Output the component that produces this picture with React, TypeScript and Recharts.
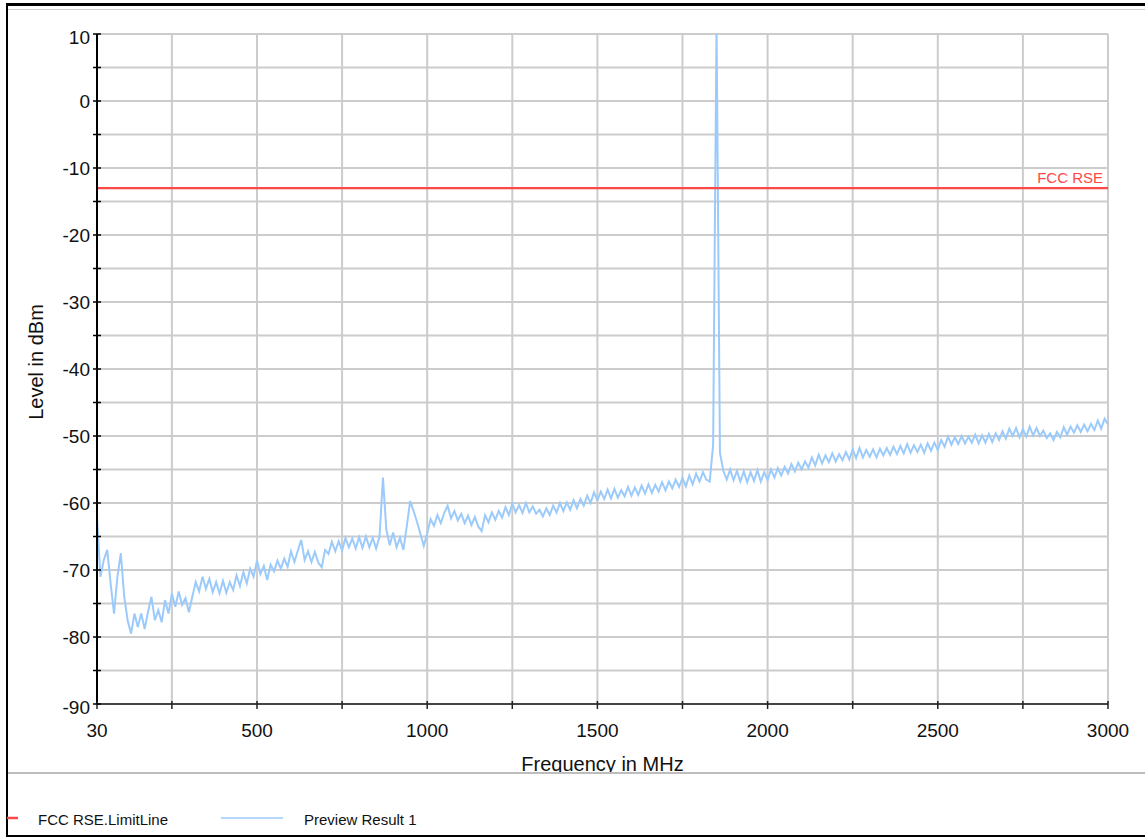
import React from 'react';
import { LineChart, Line, XAxis, YAxis, CartesianGrid } from 'recharts';

// sweep of the preview scan: 30 MHz to 3000 MHz, one point every 10 MHz
const sweepStartMHz = 30;
const sweepStepMHz = 10;
const previewLevels = [
  -62, -71, -68.5, -67, -72, -76.5, -71, -67.5, -74, -77.5,
  -79.5, -76.5, -78.5, -76.5, -78.8, -76.2, -74, -77.5, -76, -77.8,
  -74.5, -76.5, -73.5, -75.5, -73.2, -75.2, -74.2, -76.3, -74, -71.8,
  -73.2, -71, -72.8, -71.3, -73.3, -71.8, -73.5, -71.6, -73.4, -71.8,
  -73, -70.8, -72.4, -70.3, -72, -69.8, -71, -68.6, -70.6, -69.4,
  -71.5, -69.2, -70.2, -68.6, -69.8, -68.3, -69.5, -67.2, -68.8, -67.1,
  -65.5, -68.5, -67.2, -68.8, -67.3, -68.9, -69.6, -67, -67.6, -65.8,
  -67.2, -65.7, -67.1, -65.2, -66.6, -65.3, -66.8, -65.1, -66.7, -65,
  -66.6, -65.2, -66.8, -65, -56.2, -64, -66.3, -64.4, -66.6, -65.2,
  -67, -63.5, -59.7, -61.2, -62.8, -64.6, -66.4, -64.5, -62.4, -63.4,
  -61.8, -63, -61.5, -60.4, -62.3, -61.2, -62.6, -61.6, -63, -61.9,
  -63.3, -62.1, -63.5, -64.2, -61.8, -62.9, -61.4, -62.5, -61.2, -62.2,
  -60.6, -61.8, -60.1, -61.4, -60.3, -61.5, -60, -61.4, -60.5, -61.6,
  -61, -62, -60.8, -61.8, -60.4, -61.4, -60, -61.2, -59.9, -61,
  -59.6, -60.8, -59.4, -60.4, -58.9, -60, -58.4, -59.6, -58.3, -59.4,
  -58, -59.3, -57.9, -59.2, -58.1, -59, -57.6, -58.9, -57.7, -58.8,
  -57.4, -58.6, -57.2, -58.5, -57.3, -58.3, -56.9, -58.1, -56.8, -57.8,
  -56.5, -57.6, -56.3, -57.5, -55.9, -57.2, -55.6, -56.8, -55.4, -56.5,
  -56.8, -51.3, 12, -52.5, -55.2, -56.5, -55, -56.6, -55.2, -56.8,
  -55.3, -56.9, -55.4, -56.7, -55.1, -56.8, -55.4, -56.6, -55, -56.2,
  -54.8, -55.9, -54.6, -55.6, -54.2, -55.3, -54, -55, -53.8, -54.7,
  -53.2, -54.4, -52.8, -54.1, -52.9, -53.9, -52.6, -53.8, -52.7, -53.6,
  -52.4, -53.5, -52, -53.3, -51.8, -53.2, -52.1, -53.1, -52, -53.2,
  -51.9, -52.9, -51.8, -52.8, -51.6, -52.7, -51.5, -52.6, -51.2, -52.5,
  -51.4, -52.4, -51.3, -52.5, -51.1, -52.2, -51, -52.1, -50.6, -51.6,
  -50.1, -51.3, -50.2, -51.2, -50, -51.1, -50.1, -51, -49.8, -51.1,
  -49.9, -51, -49.7, -50.9, -49.6, -50.6, -49.3, -50.4, -48.9, -50,
  -48.8, -50.2, -49, -50.1, -48.6, -49.9, -48.8, -50, -49.2, -50.3,
  -49.6, -50.6, -49.4, -50.2, -48.7, -49.8, -48.6, -49.5, -48.4, -49.4,
  -48.3, -49.3, -48.2, -49.1, -47.7, -48.9, -47.4, -48.3,
];

const limitFreqs = [30, 3000];
const limitLevels = [-13, -13];
const limitName = 'FCC RSE';

const xTicks = [30, 250, 500, 750, 1000, 1250, 1500, 1750, 2000, 2250, 2500, 2750, 3000];
const xTickLabels = [30, 500, 1000, 1500, 2000, 2500, 3000];
const yTicks = [-90, -85, -80, -75, -70, -65, -60, -55, -50, -45, -40, -35, -30, -25, -20, -15, -10, -5, 0, 5, 10];
const yTickLabels = [-90, -80, -70, -60, -50, -40, -30, -20, -10, 0, 10];

const LIMIT_COLOR = '#ff4848';
const TRACE_COLOR = '#9ccbfb';
const FONT = '"Liberation Sans", Arial, sans-serif';

const legendItems = [
  { name: 'FCC RSE.LimitLine', color: LIMIT_COLOR, x1: 7, x2: 18, width: 2.5, textX: 38 },
  { name: 'Preview Result 1', color: TRACE_COLOR, x1: 221, x2: 283, width: 1.5, textX: 304 },
];

const previewData = previewLevels.map((level, i) => ({ freq: sweepStartMHz + i * sweepStepMHz, level }));
const limitData = limitFreqs.map((freq, i) => ({ freq, limit: limitLevels[i] }));

function YTick(props: any) {
  const { x, y, payload } = props;
  const v = payload.value;
  const dy = v === 10 || v === -90 ? 10 : 7;
  return (
    <g>
      <line x1={x - 4} x2={x + 4} y1={y} y2={y} stroke="#000" strokeWidth={1.5} />
      {yTickLabels.includes(v) && (
        <text x={x - 7} y={y + dy} textAnchor="end" fontSize={19} fontFamily={FONT} fill="#111">
          {v}
        </text>
      )}
    </g>
  );
}

function XTick(props: any) {
  const { x, y, payload } = props;
  const v = payload.value;
  return (
    <g>
      <line x1={x} x2={x} y1={y - 3} y2={y + 5} stroke="#222" strokeWidth={1.5} />
      {xTickLabels.includes(v) && (
        <text x={x} y={y + 33} textAnchor="middle" fontSize={19} fontFamily={FONT} fill="#111">
          {v}
        </text>
      )}
    </g>
  );
}

export default function App() {
  return (
    <div style={{ position: 'absolute', left: 0, top: 0, width: 1145, height: 837, overflow: 'hidden', background: '#fff' }}>
      <div style={{ position: 'absolute', left: 0, top: 0, width: 1145, height: 772, overflow: 'hidden' }}>
        <LineChart width={1145} height={772} margin={{ top: 34, right: 37, bottom: 0, left: 0 }}>
          <CartesianGrid stroke="#cccccc" strokeWidth={2} />
          <XAxis
            dataKey="freq"
            type="number"
            domain={[30, 3000]}
            ticks={xTicks}
            interval={0}
            height={68}
            tickSize={0}
            tickMargin={0}
            tickLine={false}
            tick={<XTick />}
            axisLine={{ stroke: '#444', strokeWidth: 2 }}
            label={(p: any) => (
              <text
                x={p.viewBox.x + p.viewBox.width / 2}
                y={p.viewBox.y + 67}
                textAnchor="middle"
                fontSize={20}
                fontFamily={FONT}
                fill="#111"
              >
                Frequency in MHz
              </text>
            )}
          />
          <YAxis
            type="number"
            domain={[-90, 10]}
            allowDataOverflow
            ticks={yTicks}
            interval={0}
            width={97}
            tickSize={0}
            tickMargin={0}
            tickLine={false}
            tick={<YTick />}
            axisLine={{ stroke: '#000', strokeWidth: 2 }}
            label={(p: any) => {
              const cx = 36;
              const cy = p.viewBox.y + p.viewBox.height / 2 - 7;
              return (
                <text
                  x={cx}
                  y={cy}
                  transform={`rotate(-90, ${cx}, ${cy})`}
                  textAnchor="middle"
                  dominantBaseline="central"
                  fontSize={20}
                  fontFamily={FONT}
                  fill="#111"
                >
                  Level in dBm
                </text>
              );
            }}
          />
          <Line
            data={previewData}
            dataKey="level"
            stroke={TRACE_COLOR}
            strokeWidth={2}
            strokeLinejoin="miter"
            dot={false}
            isAnimationActive={false}
            type="linear"
          />
          <Line
            data={limitData}
            dataKey="limit"
            stroke={LIMIT_COLOR}
            strokeWidth={2.2}
            dot={false}
            isAnimationActive={false}
            type="linear"
            label={(p: any) =>
              p.index === limitData.length - 1 ? (
                <text key="lim" x={p.x - 5} y={p.y - 5} textAnchor="end" fontSize={15} fontFamily={FONT} fill={LIMIT_COLOR}>
                  {limitName}
                </text>
              ) : null
            }
          />
        </LineChart>
      </div>
      {/* frame and separators */}
      <div style={{ position: 'absolute', left: 8, top: 9, width: 1137, height: 1, background: '#cfcfcf' }} />
      <div style={{ position: 'absolute', left: 8, top: 772, width: 1137, height: 2, background: '#bdbdbd' }} />
      <div
        style={{
          position: 'absolute',
          left: 6,
          top: 3,
          width: 1200,
          height: 834,
          boxSizing: 'border-box',
          borderTop: '3px solid #000',
          borderLeft: '2px solid #000',
          borderBottom: '2px solid #000',
        }}
      />
      <svg style={{ position: 'absolute', left: 0, top: 790 }} width={1145} height={44}>
        {legendItems.map((it) => (
          <g key={it.name}>
            <line x1={it.x1} x2={it.x2} y1={28} y2={28} stroke={it.color} strokeWidth={it.width} />
            <text x={it.textX} y={35} fontSize={15} fontFamily={FONT} fill="#111">
              {it.name}
            </text>
          </g>
        ))}
      </svg>
    </div>
  );
}
